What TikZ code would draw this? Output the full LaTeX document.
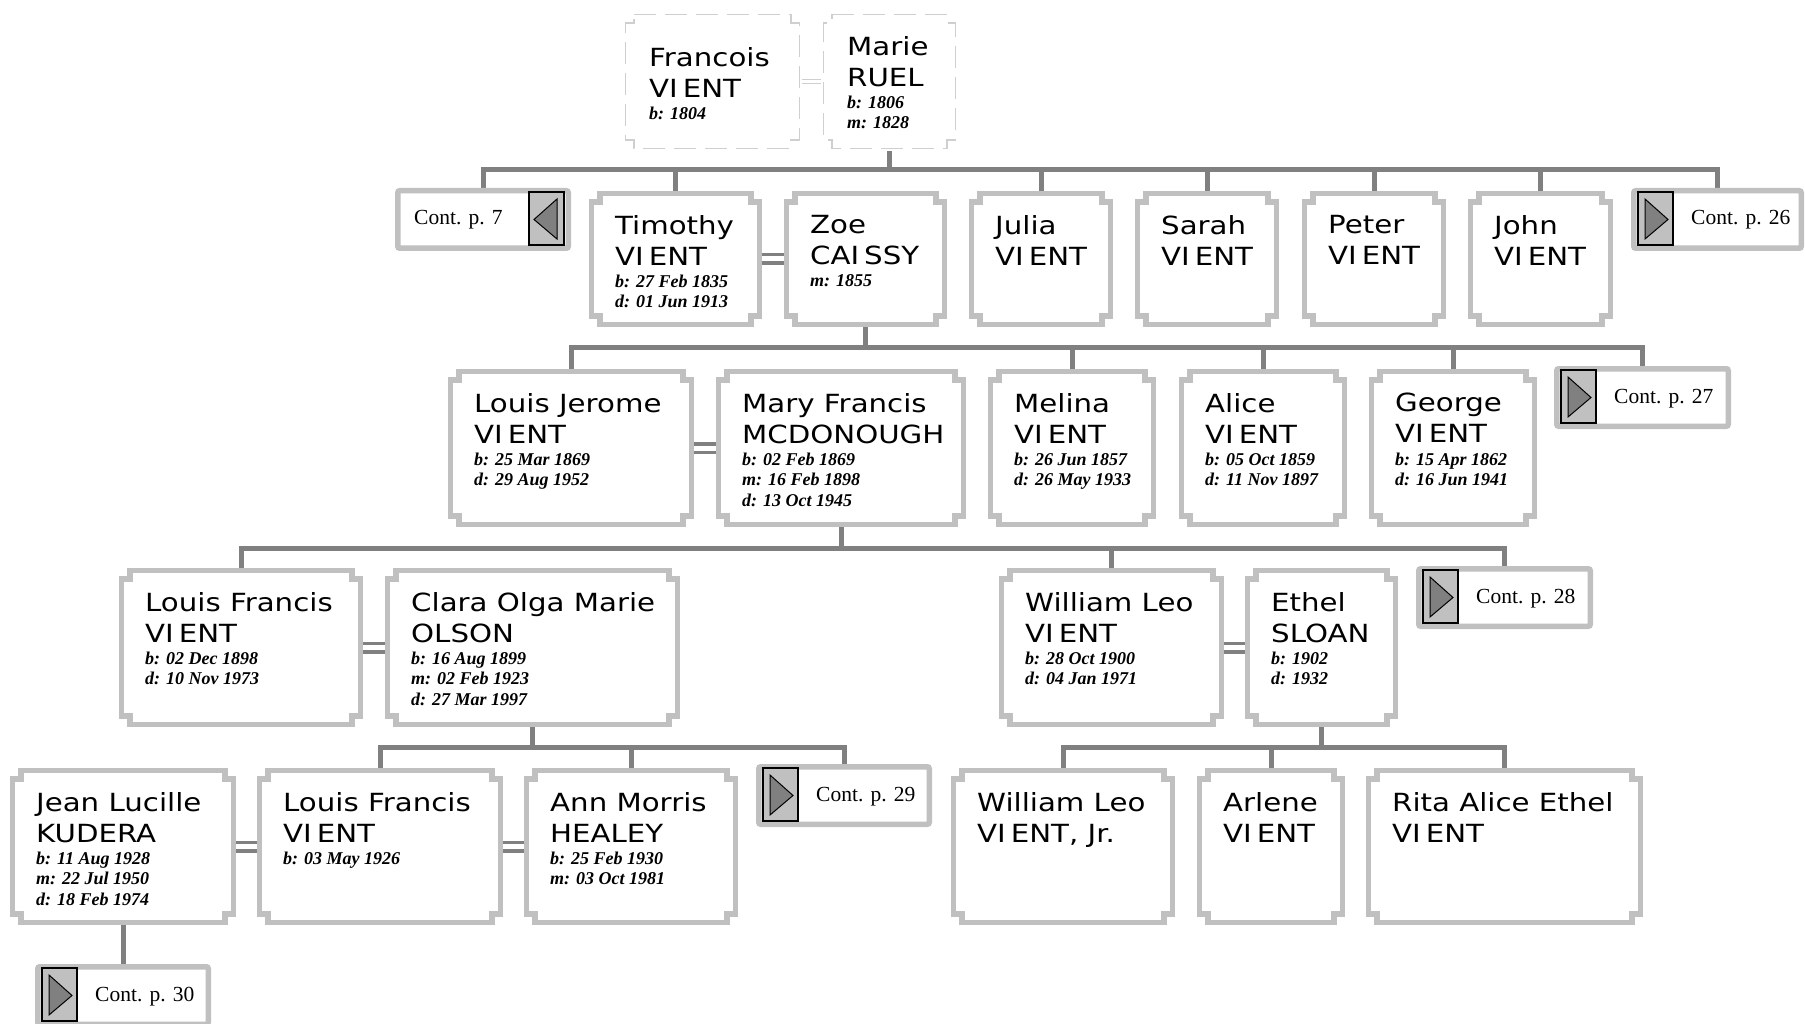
\documentclass[tikz,border=0pt]{standalone}
\usepackage{fontspec}
\usetikzlibrary{fit}
\newfontfamily\namefont[FakeStretch=1.17]{DejaVu Sans}
\newfontfamily\datefont{Liberation Serif}
\definecolor{rimgray}{HTML}{C0C0C0}
\definecolor{linkgray}{HTML}{808080}
\definecolor{ghostgray}{HTML}{CFCFCF}

\tikzset{
  box/.style={inner sep=0, outer sep=0},
  rim/.style={draw=rimgray, line width=5.5pt, line join=miter},
  ghost/.style={draw=ghostgray, line width=1.5pt, dash pattern=on 22pt off 9pt},
  link/.style={draw=linkgray, line width=5pt, line join=miter},
  wed/.style={draw=linkgray, line width=3.5pt},
  thinwed/.style={draw=ghostgray, line width=1.3pt},
  who/.style={anchor=north west, inner sep=0, align=left, font=\namefont\fontsize{25}{31}\selectfont},
  when/.style={anchor=north west, inner sep=0, align=left, font=\datefont\bfseries\itshape\fontsize{18}{20.5}\selectfont},
  note/.style={anchor=base west, inner sep=0, font=\datefont\fontsize{21.5}{24}\selectfont},
  btn/.style={fill=rimgray, draw=black, line width=1.2pt},
  tri/.style={fill=linkgray, draw=black, line width=1pt, line join=miter}
}

\newcommand\vient{VI\kern5pt ENT}
% person: [text drop] id, corner, corner, names, dates
\newcommand\person[6][0]{%
  \node[box, fit={(#3) (#4)}] (#2) {};
  \node[who] (#2-name) at ([shift={(26,24+#1)}]#2.north west) {#5};
  \node[when] (#2-date) at ([shift={(26,83.5+#1)}]#2.north west) {#6};
}
% continuation box: [text offset] id, corner, corner, page
\newcommand\contbox[5][60]{%
  \node[box, fit={(#3) (#4)}] (#2) {};
  \node[note] (#2-txt) at ([shift={(#1,37)}]#2.north west) {Cont. p. #5};
}
\newcommand\notch[2][rim]{%
  \draw[#1] ([shift={(11,2.5)}]#2.north west) -- ([shift={(-11,2.5)}]#2.north east)
    -- ([shift={(-11,11)}]#2.north east) -- ([shift={(-2.5,11)}]#2.north east)
    -- ([shift={(-2.5,-11)}]#2.south east) -- ([shift={(-11,-11)}]#2.south east)
    -- ([shift={(-11,-2.5)}]#2.south east) -- ([shift={(11,-2.5)}]#2.south west)
    -- ([shift={(11,-11)}]#2.south west) -- ([shift={(2.5,-11)}]#2.south west)
    -- ([shift={(2.5,11)}]#2.north west) -- ([shift={(11,11)}]#2.north west) -- cycle;
}
\newcommand\contrim[1]{%
  \draw[rim, rounded corners=2pt] ([shift={(2.75,2.75)}]#1.north west) rectangle ([shift={(-2.75,-2.75)}]#1.south east);
}
\newcommand\nextbtn[1]{%
  \draw[btn] ([shift={(7,4)}]#1.north west) rectangle ([shift={(42,-6)}]#1.south west);
  \draw[tri] ([shift={(14,11)}]#1.north west) -- ([shift={(14,-12)}]#1.south west) -- ([shift={(37,0)}]#1.west) -- cycle;
}

\begin{document}
\begin{tikzpicture}[x=1pt, y=-1pt]
\useasboundingbox (0,0) rectangle (1805,1024);
\fill[white] (0,0) rectangle (1805,1024);

% generation 1
\person[11]{fran}{623,12}{802,151}{Francois\\\vient}{b: 1804}
\person{marie}{821,12}{958,151}{Marie\\RUEL}{b: 1806\\m: 1828}

% generation 2
\contbox[19]{cont7}{395,188}{571,251}{7}
\person{tim}{589,191}{762,327}{Timothy\\\vient}{b: 27 Feb 1835\\d: 01 Jun 1913}
\person{zoe}{784,191}{947,327}{Zoe\\CAI\kern5pt SSY}{m: 1855}
\person{julia}{969,191}{1113,327}{Julia\\\vient}{}
\person{sarah}{1135,191}{1279,327}{Sarah\\\vient}{}
\person{peter}{1302,191}{1446,327}{Peter\\\vient}{}
\person{john}{1468,191}{1613,327}{John\\\vient}{}
\contbox{cont26}{1631,188}{1804,251}{26}

% generation 3
\person{lj}{448,369}{694,527}{Louis Jerome\\\vient}{b: 25 Mar 1869\\d: 29 Aug 1952}
\person{mf}{716,369}{966,527}{Mary Francis\\MCDONOUGH}{b: 02 Feb 1869\\m: 16 Feb 1898\\d: 13 Oct 1945}
\person{melina}{988,369}{1156,527}{Melina\\\vient}{b: 26 Jun 1857\\d: 26 May 1933}
\person{alice}{1179,369}{1347,527}{Alice\\\vient}{b: 05 Oct 1859\\d: 11 Nov 1897}
\person{george}{1369,369}{1537,527}{George\\\vient}{b: 15 Apr 1862\\d: 16 Jun 1941}
\contbox{cont27}{1554,366}{1731,429}{27}

% generation 4
\person{lf}{119,568}{363,727}{Louis Francis\\\vient}{b: 02 Dec 1898\\d: 10 Nov 1973}
\person{clara}{385,568}{680,727}{Clara Olga Marie\\OLSON}{b: 16 Aug 1899\\m: 02 Feb 1923\\d: 27 Mar 1997}
\person{wl}{999,568}{1224,727}{William Leo\\\vient}{b: 28 Oct 1900\\d: 04 Jan 1971}
\person{ethel}{1245,568}{1398,727}{Ethel\\SLOAN}{b: 1902\\d: 1932}
\contbox{cont28}{1416,566}{1593,629}{28}

% generation 5
\person{jean}{10,768}{236,925}{Jean Lucille\\KUDERA}{b: 11 Aug 1928\\m: 22 Jul 1950\\d: 18 Feb 1974}
\person{lf2}{257,768}{503,925}{Louis Francis\\\vient}{b: 03 May 1926}
\person{ann}{524,768}{738,925}{Ann Morris\\HEALEY}{b: 25 Feb 1930\\m: 03 Oct 1981}
\contbox{cont29}{756,764}{932,827}{29}
\person{wlj}{951,768}{1175,925}{William Leo\\\vient, Jr.}{}
\person{arlene}{1197,768}{1345,925}{Arlene\\\vient}{}
\person{rita}{1366,768}{1643,925}{Rita Alice Ethel\\\vient}{}
\contbox{cont30}{35,964}{211,1027}{30}

% family lines
\coordinate (g2) at (0,170);
\coordinate (g3) at (0,348);
\coordinate (g4) at (0,548);
\coordinate (g5) at (0,747);
\draw[link] (marie.south) -- (marie.south |- g2);
\draw[link] (cont7.north) |- (cont26.north |- g2) -- (cont26.north);
\foreach \n in {tim,julia,sarah,peter,john} \draw[link] (\n.north) -- (\n.north |- g2);
\draw[link] (zoe.south) -- (zoe.south |- g3);
\draw[link] (lj.north) |- (cont27.north |- g3) -- (cont27.north);
\foreach \n in {melina,alice,george} \draw[link] (\n.north) -- (\n.north |- g3);
\draw[link] (mf.south) -- (mf.south |- g4);
\draw[link] (lf.north) |- (cont28.north |- g4) -- (cont28.north);
\draw[link] (wl.north) -- (wl.north |- g4);
\draw[link] (clara.south) -- (clara.south |- g5);
\draw[link] (lf2.north) |- (cont29.north |- g5) -- (cont29.north);
\draw[link] (ann.north) -- (ann.north |- g5);
\draw[link] (ethel.south) -- (ethel.south |- g5);
\draw[link] (wlj.north) |- (rita.north |- g5) -- (rita.north);
\draw[link] (arlene.north) -- (arlene.north |- g5);
\draw[link] (jean.south) -- (cont30.north);

% marriages
\draw[thinwed] ([yshift=2pt]fran.east) -- ([yshift=2pt]marie.west);
\draw[thinwed] ([yshift=-2pt]fran.east) -- ([yshift=-2pt]marie.west);
\foreach \a/\b in {tim/zoe,lj/mf,lf/clara,wl/ethel,jean/lf2,lf2/ann} {
  \draw[wed] ([yshift=4.25pt]\a.east) -- ([yshift=4.25pt]\b.west);
  \draw[wed] ([yshift=-4.25pt]\a.east) -- ([yshift=-4.25pt]\b.west);
}

% frames
\notch[ghost]{fran}
\notch[ghost]{marie}
\foreach \n in {tim,zoe,julia,sarah,peter,john,lj,mf,melina,alice,george,lf,clara,wl,ethel,jean,lf2,ann,wlj,arlene,rita} {\notch{\n}}
\foreach \n in {cont7,cont26,cont27,cont28,cont29,cont30} {\contrim{\n}}
\foreach \n in {cont26,cont27,cont28,cont29,cont30} {\nextbtn{\n}}
\draw[btn] ([shift={(-42,4)}]cont7.north east) rectangle ([shift={(-7,-6)}]cont7.south east);
\draw[tri] ([shift={(-14,11)}]cont7.north east) -- ([shift={(-14,-12)}]cont7.south east) -- ([shift={(-37,0)}]cont7.east) -- cycle;
\end{tikzpicture}
\end{document}
